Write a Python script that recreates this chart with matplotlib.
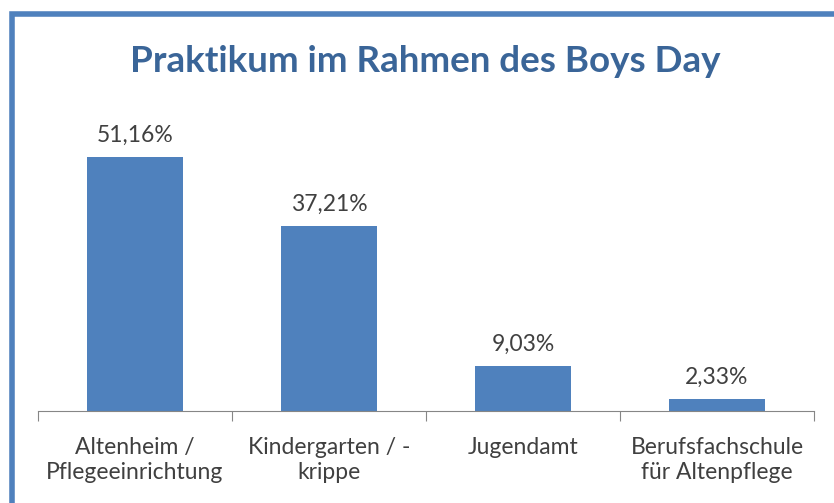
import matplotlib.pyplot as plt
from matplotlib.patches import Rectangle

# Daten
categories = ["Altenheim /\nPflegeeinrichtung", "Kindergarten / -\nkrippe",
              "Jugendamt", "Berufsfachschule\nfür Altenpflege"]
values = [51.16, 37.21, 9.03, 2.33]
value_labels = ["51,16%", "37,21%", "9,03%", "2,33%"]

BAR_COLOR = "#4F81BD"
TEXT_COLOR = "#404040"
TITLE_COLOR = "#3A6598"

plt.rcParams['font.family'] = ['Lato', 'DejaVu Sans']

W, H = 834, 503
fig = plt.figure(figsize=(W / 100, H / 100), dpi=100)

# Rahmen (nur links und oben sichtbar)
fig.patches.append(Rectangle((11.5 / W, -0.2), 1.5, (H - 14) / H + 0.2,
                             transform=fig.transFigure, fill=False,
                             edgecolor=BAR_COLOR, linewidth=4))

ax = fig.add_axes([38 / W, (H - 411) / H, (814 - 38) / W, 298 / H])
x = list(range(len(values)))
ax.bar(x, values, width=0.49, color=BAR_COLOR)
ax.set_xlim(-0.5, len(values) - 0.5)
ax.set_ylim(0, 60)

for xi, v, lab in zip(x, values, value_labels):
    ax.annotate(lab, (xi, v), xytext=(0, 8), textcoords="offset points",
                ha="center", va="bottom", fontsize=16.5, color=TEXT_COLOR)

for s in ["top", "right", "left"]:
    ax.spines[s].set_visible(False)
ax.spines["bottom"].set_color("#868686")
ax.set_yticks([])
ax.set_xticks([-0.5, 0.5, 1.5, 2.5, 3.5])
ax.set_xticklabels([])
ax.tick_params(axis="x", length=7, color="#868686")
ax.set_xticks(x, minor=True)
ax.set_xticklabels(categories, minor=True, fontsize=16.5, color=TEXT_COLOR,
                   linespacing=1.25)
ax.tick_params(axis="x", which="minor", length=0, pad=18.5)

fig.text(425 / W, 1 - 61 / H, "Praktikum im Rahmen des Boys Day",
         ha="center", va="center", fontsize=26.5, fontweight="bold",
         color=TITLE_COLOR)

fig.savefig("out.png", dpi=100)
